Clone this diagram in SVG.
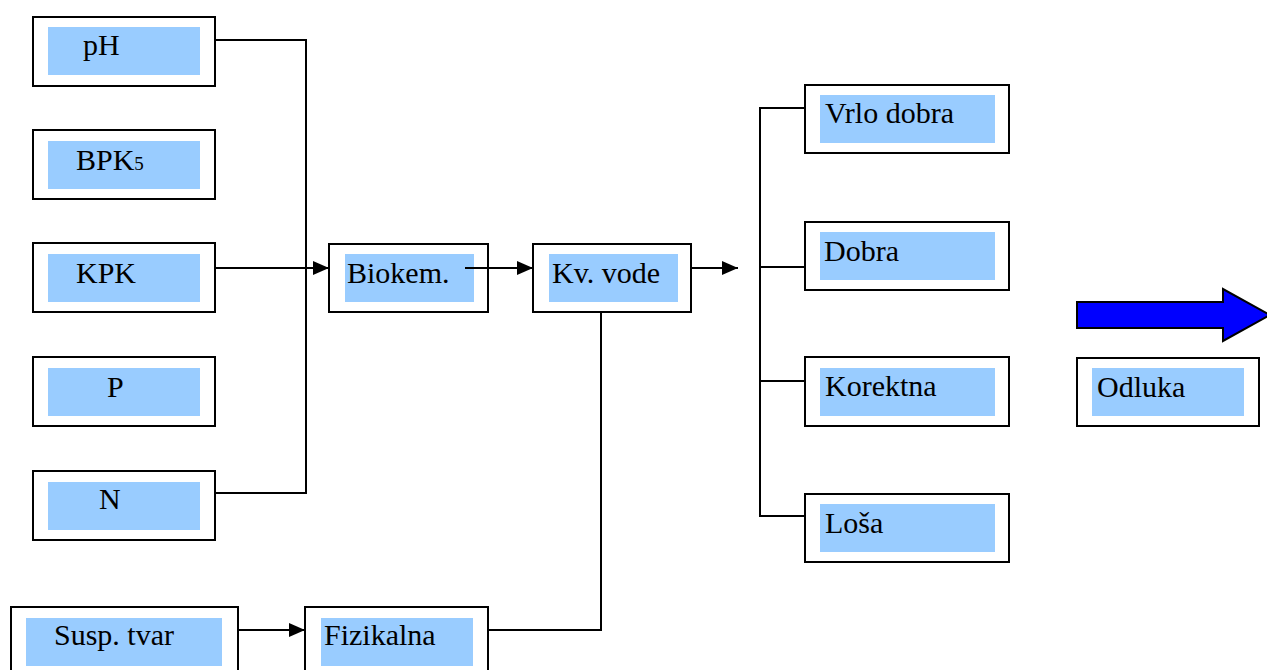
<svg xmlns="http://www.w3.org/2000/svg" width="1267" height="670" viewBox="0 0 1267 670">
<style>
.o{fill:#fff;stroke:#000;stroke-width:2}
.i{fill:#99ccff;stroke:none}
text{font-family:Liberation Serif, Times New Roman, DejaVu Serif, serif;font-size:30px;fill:#000}
.c{fill:none;stroke:#000;stroke-width:2}
</style>
<defs>
<marker id="ah" markerUnits="userSpaceOnUse" viewBox="0 0 16 14" markerWidth="16" markerHeight="14" refX="16" refY="7" orient="auto">
<path d="M0,0 L16,7 L0,14 z" fill="#000"/>
</marker>
</defs>
<rect width="1267" height="670" fill="#fff"/>
<g id="pH"><rect class="o" x="33" y="17" width="182" height="69"/><rect class="i" x="48" y="27" width="152" height="48"/><text x="83" y="55">pH</text></g>
<g id="BPK5"><rect class="o" x="33" y="130" width="182" height="69"/><rect class="i" x="48" y="141" width="152" height="48"/><text x="76" y="170">BPK<tspan font-size="19">5</tspan></text></g>
<g id="KPK"><rect class="o" x="33" y="243" width="182" height="69"/><rect class="i" x="48" y="254" width="152" height="48"/><text x="76" y="283">KPK</text></g>
<g id="P"><rect class="o" x="33" y="357" width="182" height="69"/><rect class="i" x="48" y="368" width="152" height="48"/><text x="107" y="397">P</text></g>
<g id="N"><rect class="o" x="33" y="471" width="182" height="69"/><rect class="i" x="48" y="482" width="152" height="48"/><text x="99" y="509">N</text></g>
<g id="Biokem"><rect class="o" x="329" y="244" width="159" height="68"/><rect class="i" x="345" y="254" width="129" height="48"/><text x="347" y="283">Biokem.</text></g>
<g id="KvVode"><rect class="o" x="533" y="244" width="158" height="68"/><rect class="i" x="549" y="254" width="129" height="48"/><text x="552" y="283">Kv. vode</text></g>
<g id="SuspTvar"><rect class="o" x="11" y="607" width="227" height="70"/><rect class="i" x="26" y="618" width="196" height="48"/><text x="54" y="645">Susp. tvar</text></g>
<g id="Fizikalna"><rect class="o" x="305" y="607" width="183" height="70"/><rect class="i" x="321" y="618" width="152" height="48"/><text x="324" y="645">Fizikalna</text></g>
<g id="VrloDobra"><rect class="o" x="805" y="85" width="204" height="68"/><rect class="i" x="820" y="95" width="175" height="48"/><text x="825" y="123">Vrlo dobra</text></g>
<g id="Dobra"><rect class="o" x="805" y="222" width="204" height="68"/><rect class="i" x="820" y="232" width="175" height="48"/><text x="824" y="261">Dobra</text></g>
<g id="Korektna"><rect class="o" x="805" y="357" width="204" height="69"/><rect class="i" x="820" y="368" width="175" height="48"/><text x="825" y="396">Korektna</text></g>
<g id="Losa"><rect class="o" x="805" y="494" width="204" height="68"/><rect class="i" x="820" y="504" width="175" height="48"/><text x="825" y="533">Loša</text></g>
<g id="BlueArrow"><polygon points="1077,302 1223,302 1223,289 1270,315 1223,341 1223,328 1077,328" fill="#0000ff" stroke="#000" stroke-width="2"/></g>
<g id="Odluka"><rect class="o" x="1077" y="358" width="182" height="68"/><rect class="i" x="1092" y="368" width="152" height="48"/><text x="1097" y="397">Odluka</text></g>
<g id="connectors">
<polyline class="c" points="215,40 306,40 306,493 215,493"/>
<line class="c" x1="215" y1="268" x2="329" y2="268" marker-end="url(#ah)"/>
<line class="c" x1="465" y1="268" x2="533" y2="268" marker-end="url(#ah)"/>
<line class="c" x1="691" y1="268" x2="738" y2="268" marker-end="url(#ah)"/>
<line class="c" x1="238" y1="630" x2="305" y2="630" marker-end="url(#ah)"/>
<polyline class="c" points="488,630 601,630 601,312"/>
<polyline class="c" points="804,108 760,108 760,516 804,516"/>
<line class="c" x1="760" y1="267" x2="804" y2="267"/>
<line class="c" x1="760" y1="381" x2="804" y2="381"/>
</g>
</svg>
